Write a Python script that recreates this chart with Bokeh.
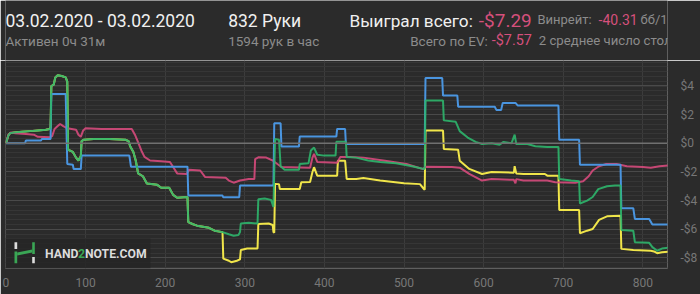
from bokeh.plotting import figure
from bokeh.layouts import column
from bokeh.models import Range1d, FixedTicker, Label, BoxAnnotation, Span, PolyAnnotation
from bokeh.core.properties import value
from bokeh.embed import file_html
from bokeh.resources import INLINE

# ---------------- data (hand number, $ value) ----------------
green_x = [0, 3, 5, 10, 20, 30, 40, 50, 55, 56, 57, 60, 62, 65, 70, 75, 77,
           78, 84, 88, 91, 94, 95, 98, 110, 130, 150, 154,
           156, 160, 163, 166, 172, 177, 190, 195, 205, 210, 215, 228,
           229, 235, 240, 255, 262, 272]
green_y = [0, 0.55, 0.7, 0.75, 0.8, 0.85, 0.9, 0.95, 1.0, 1.1, 4.0, 4.1, 4.6, 4.75, 4.7, 4.6, 4.3,
           -0.45, -0.6, -1.0, -1.2, -0.9, 0.15, 0.25, 0.3, 0.3, 0.25, 0.15,
           -0.2, -0.6, -1.2, -2.1, -2.3, -2.8, -2.9, -3.1, -3.1, -3.6, -3.8, -3.75,
           -5.5, -5.65, -5.75, -5.9, -6.1, -6.2]
green_x2 = [280, 286, 292, 294, 295, 305, 316, 317, 325, 333, 336,
            338, 343, 345, 350, 368, 369, 380, 383, 387, 391, 400, 414, 415, 427,
            428, 440, 455, 470, 490, 510, 525, 526, 527, 549, 550, 565, 570, 580,
            590, 598, 610, 620, 625, 635, 639, 641, 655, 665, 680, 694,
            695, 710, 720, 721, 730, 737, 744, 755, 765, 772,
            773, 788, 790, 808, 812, 818, 824, 832]
green_y2 = [-6.35, -6.45, -6.4, -6.2, -5.6, -5.55, -5.6, -3.9, -3.85, -3.95, -4.45,
            0.3, 0.25, -1.6, -1.85, -1.85, -1.45, -1.4, -0.5, -0.3, -0.8, -0.86, -0.86, 0.1, 0.1,
            -0.95, -1.0, -1.2, -1.3, -1.4, -1.6, -1.79, -1.8, 2.98, 2.98, 1.6, 1.5, 0.85, 0.4,
            0.1, -0.05, 0.0, -0.1, 0.1, 0.0, 0.6, -0.05, -0.05, -0.2, -0.25, -0.25,
            -2.5, -2.6, -2.65, -4.2, -4.0, -3.75, -3.2, -3.0, -2.95, -2.95,
            -6.05, -6.1, -6.9, -6.95, -7.25, -7.5, -7.35, -7.29]

yellow_x2 = [273, 280, 283, 290, 294, 295, 303, 316, 317, 330, 335, 336, 337,
             338, 343, 344, 369, 371, 382, 385, 387, 391, 416, 417, 426, 428, 440,
             449, 470, 500, 520, 525, 526, 527, 549, 550, 568, 570, 582, 598, 610,
             638, 639, 641, 650, 677, 680, 694, 695, 720, 721, 730, 737, 745, 755,
             772, 773, 788, 810, 814, 818, 824, 832]
yellow_y2 = [-8.05, -8.2, -8.3, -8.2, -8.1, -7.45, -7.35, -7.35, -5.63, -5.6, -5.7, -6.2, -6.25,
             -2.84, -2.85, -3.19, -3.19, -2.72, -2.7, -2.0, -1.67, -2.26, -2.26, -1.21, -1.21, -2.49, -2.49,
             -2.42, -2.6, -2.79, -2.85, -3.19, -3.25, 0.89, 0.89, -0.4, -0.45, -1.21, -1.79, -2.14, -2.0,
             -2.05, -1.6, -2.1, -2.14, -2.14, -2.26, -2.26, -4.65, -4.65, -6.28, -6.1, -5.98, -5.35, -5.1,
             -5.05, -7.37, -7.45, -7.5, -7.55, -7.67, -7.6, -7.57]

pink_x = [0, 3, 6, 12, 25, 35, 40, 55, 58, 61, 65, 68, 72, 77, 88, 91, 94, 97, 100, 120, 140, 158,
          162, 165, 170, 174, 181, 195, 206, 210, 215, 227, 230, 244, 250, 276, 280, 286, 294, 305,
          312, 313, 317, 327, 335, 346, 382, 385, 387, 391, 416, 420, 432, 449, 474, 503, 524, 527,
          560, 570, 582, 598, 610, 638, 640, 641, 650, 680, 690, 715, 725, 732, 737, 745, 754, 767,
          780, 800, 810, 821, 832]
pink_y = [0, 0.6, 0.75, 0.7, 0.65, 0.6, 0.45, 0.42, 0.5, 1.0, 1.2, 1.35, 1.2, 1.05, 0.95, 0.6, 0.45, 0.9, 1.05, 1.0, 1.0, 1.0,
          0.6, 0.2, -0.5, -0.95, -1.2, -1.25, -1.3, -1.65, -2.1, -2.15, -1.85, -1.9, -2.35, -2.4, -2.6, -2.75, -2.6, -2.5,
          -2.5, -1.1, -0.98, -1.0, -1.2, -1.65, -1.7, -1.0, -0.74, -1.3, -1.35, -0.95, -0.95, -1.0, -1.2, -1.45, -1.8, -1.63,
          -1.65, -1.7, -2.14, -2.6, -2.5, -2.55, -2.8, -2.5, -2.6, -2.6, -2.72, -2.75, -2.65, -2.3, -1.9, -1.6, -1.45, -1.45,
          -1.6, -1.65, -1.7, -1.6, -1.55]

blue_x = [0, 24, 25, 44, 45, 56, 57, 75, 77, 84, 85, 94, 95, 155, 157, 228, 229, 272, 273, 293, 294,
          336, 337, 345, 346, 368, 369, 415, 416, 426, 427, 526, 527, 548, 549, 567, 568, 614, 616,
          622, 624, 640, 643, 694, 695, 720, 721, 772, 773, 788, 790, 808, 812, 832]
blue_y = [0, 0, 0.2, 0.2, 0.3, 0.3, 3.45, 3.45, -1.45, -1.5, -1.8, -1.8, -0.86, -0.86, -1.63, -1.63, -3.65, -3.65, -3.77, -3.77, -2.95,
          -2.95, 1.4, 1.4, -0.23, -0.23, 0.47, 0.47, 1.0, 1.0, -0.05, -0.05, 4.56, 4.56, 3.33, 3.33, 2.55, 2.55, 2.33,
          2.33, 2.82, 2.82, 2.63, 2.63, 0.24, 0.24, -1.49, -1.49, -4.53, -4.53, -5.28, -5.28, -5.67, -5.67]

# green (net won) and yellow (EV) coincide until the first all-in
net_x = green_x + green_x2
net_y = green_y + green_y2
ev_x = green_x + yellow_x2
ev_y = green_y + yellow_y2

y_major = [-8, -6, -4, -2, 0, 2, 4]
y_labels = {-8: "-$8", -6: "-$6", -4: "-$4", -2: "-$2", 0: "$0", 2: "$2", 4: "$4"}
x_major = [0, 100, 200, 300, 400, 500, 600, 700, 800]

# header texts
header_texts = ["03.02.2020 - 03.02.2020", "Активен 0ч 31м", "832 Руки", "1594 рук в час",
                "Выиграл всего:", "-$7.29", "Винрейт:", "-40.31", "бб/100",
                "Всего по EV:", "-$7.57", "2 среднее число столов"]

BG = "#2b2b2b"
GREY = "#8c8c8c"
PINK = "#d5507c"
WHITE = "#f0f0f0"

# ---------------- header (data units = page pixels) ----------------
h = figure(width=700, height=60, output_backend="svg", toolbar_location=None,
           x_range=Range1d(5, 668), y_range=Range1d(60, 0),
           x_axis_type=None, y_axis_type=None,
           min_border_left=5, min_border_right=32, min_border_top=0, min_border_bottom=0)
h.background_fill_color = BG
h.border_fill_color = BG
h.outline_line_color = None
h.grid.visible = False

hx = [5, 5, 228, 228, 473, 479, 592, 599, 641, 488, 492, 539]
hy = [20, 40, 20, 40, 20, 20, 19, 19, 19, 40, 40, 40]
hsize = ["17.5px", "13.5px", "17.5px", "13.5px", "17.2px", "19px", "13px", "14px", "13px",
         "13.5px", "14.4px", "13.2px"]
hcol = [WHITE, GREY, WHITE, GREY, WHITE, PINK, GREY, PINK, GREY, GREY, PINK, GREY]
halign = ["left", "left", "left", "left", "right", "left", "right", "left", "left",
          "right", "left", "left"]
for t, x, y, s, c, a in zip(header_texts, hx, hy, hsize, hcol, halign):
    h.text(x=[x], y=[y], text=[t], text_font=value("Roboto"), text_font_size=s,
           text_color=c, text_baseline="middle", text_align=a)

# ---------------- chart ----------------
p = figure(width=700, height=234, output_backend="svg", toolbar_location=None,
           x_range=Range1d(-0.6, 831), y_range=Range1d(-8.74, 5.78),
           y_axis_location="right",
           min_border_left=5, min_border_right=32, min_border_top=0, min_border_bottom=26)
p.background_fill_color = BG
p.border_fill_color = BG
p.outline_line_color = None

minor = [round(-8.67 + i / 3.0, 4) for i in range(0, 44)]
yt = FixedTicker(ticks=y_major, minor_ticks=minor)
p.yaxis.ticker = yt
p.ygrid.ticker = yt
p.yaxis.major_label_overrides = y_labels
p.xaxis.ticker = FixedTicker(ticks=x_major)
p.xgrid.ticker = FixedTicker(ticks=x_major)

for ax in (p.xaxis, p.yaxis):
    ax.axis_line_color = None
    ax.major_tick_line_color = None
    ax.minor_tick_line_color = None
    ax.major_label_text_color = "#777777"
    ax.major_label_text_font = "Roboto"
    ax.major_label_text_font_size = "12px"
p.yaxis.major_label_standoff = 7
p.xaxis.major_label_standoff = 3

p.ygrid.grid_line_color = "#4a4a4a"
p.ygrid.minor_grid_line_color = "#363636"
p.xgrid.grid_line_color = "#3c3c3c"

p.add_layout(Span(location=0, dimension="width", line_color="#707070", line_width=1.5))

p.line(ev_x, ev_y, line_color="#f0e54a", line_width=2)
p.line(pink_x, pink_y, line_color="#d64a7c", line_width=2, line_alpha=0.9)
p.line(blue_x, blue_y, line_color="#4a95e0", line_width=2)
p.line(net_x, net_y, line_color="#2db56c", line_width=2, line_alpha=0.9)

# ---------------- logo (screen coords relative to frame) ----------------
FL, FB = 5, 268  # frame left / frame bottom in page px

p.add_layout(BoxAnnotation(left=0, right=150 - FL, bottom=0, top=FB - 238,
                           left_units="screen", right_units="screen",
                           bottom_units="screen", top_units="screen",
                           fill_color="#262626", fill_alpha=0.85, line_color=None))


def bar(x0, x1, y0, y1, color):
    p.add_layout(BoxAnnotation(left=x0 - FL, right=x1 - FL, bottom=FB - y1, top=FB - y0,
                               left_units="screen", right_units="screen",
                               bottom_units="screen", top_units="screen",
                               fill_color=color, fill_alpha=1, line_color=None))


bar(14, 16.7, 241.7, 248.5, "#dddddd")
bar(14, 16.7, 251, 262.7, "#3aa655")
bar(31.7, 34.3, 241.7, 253.5, "#3aa655")
bar(31.7, 34.3, 256.5, 262.7, "#dddddd")
p.add_layout(PolyAnnotation(xs=[16.7 - FL, 31.7 - FL, 31.7 - FL, 16.7 - FL],
                            ys=[FB - 252, FB - 249, FB - 252, FB - 255],
                            xs_units="screen", ys_units="screen",
                            fill_color="#3aa655", fill_alpha=1, line_color=None))


def lab(text, cx, cy, size, color, style="normal"):
    p.add_layout(Label(x=cx - FL, y=FB - cy, x_units="screen", y_units="screen", text=text,
                       text_font="Roboto", text_font_size=size, text_color=color,
                       text_baseline="middle", text_align="left", text_font_style=style))


lab("HAND", 44.5, 253, "12.2px", "#dcdcdc", "bold")
lab("2", 77.6, 253, "12.2px", "#3aa655", "bold")
lab("NOTE.COM", 84.5, 253, "12.2px", "#dcdcdc", "bold")

layout = column(h, p, spacing=0)
open("out.html", "w").write(file_html(layout, INLINE))
